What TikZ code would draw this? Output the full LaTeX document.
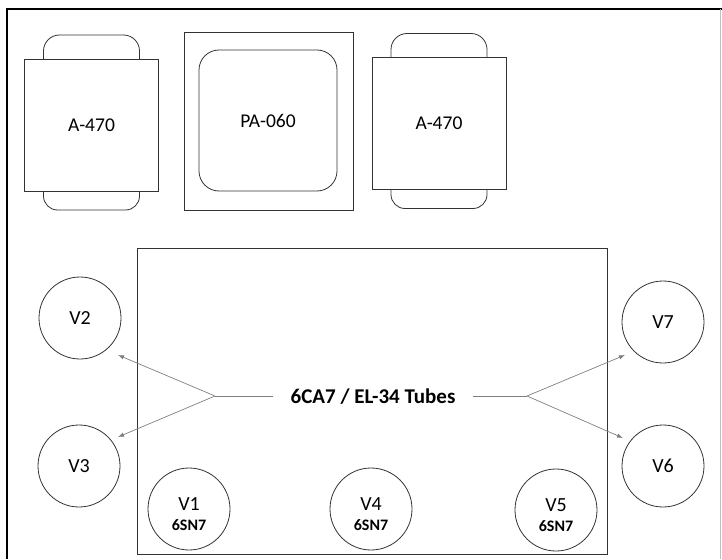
\documentclass[tikz,border=0pt]{standalone}
\usepackage{fontspec}
\setmainfont{Carlito}
\usetikzlibrary{arrows.meta}
\usetikzlibrary{positioning}

% transformer: name, centre x, centre y, label
\newcommand*{\xfmr}[4]{%
  \draw [part, rounded corners=16pt] ({#2-48},{#3-66}) -- ({#2-48},{#3-90})
        -- ({#2+48},{#3-90}) -- ({#2+48},{#3-66});
  \draw [part, rounded corners=14pt] ({#2-48},{#3+66}) -- ({#2-48},{#3+85})
        -- ({#2+48},{#3+85}) -- ({#2+48},{#3+66});
  \node [part, fill=white, minimum width=134pt, minimum height=132pt,
         font=\fontsize{19.5}{22}\selectfont] (#1) at (#2,#3) {#4};
}

\begin{document}
\begin{tikzpicture}[x=1pt, y=-1pt,
    part/.style = {draw=black!80, line width=0.8pt},
    tube/.style = {part, circle, minimum size=82pt, inner sep=0pt,
                   align=center, font=\fontsize{20}{22}\selectfont},
    driver/.style = {tube, text height=44pt},
    lead/.style = {draw=black!50, line width=0.7pt},
    tip/.style  = {lead, -{Latex[length=6pt,width=4.5pt]}}]
		\useasboundingbox (0,0) rectangle (722,559);
		% frame
		\draw [line width=1.4pt] (722,9) -- (7,9) -- (7,559);
		\draw [black!25, line width=0.8pt] (720,9) -- (720,559);
		% power and output transformers
		\xfmr{otl}{91.5}{125}{A-470}
		\xfmr{otr}{439}{123.5}{A-470}
		\node [part, minimum width=169pt, minimum height=178pt] (pt) at (268.5,121) {};
		\node [part, rounded corners=20pt, minimum width=138pt, minimum height=141pt,
		       font=\fontsize{19.5}{22}\selectfont] (ptcore) at (268,120.5) {PA-060};
		% chassis
		\node [part, minimum width=470pt, minimum height=306pt] (chassis) at (372,401) {};
		% tubes
		\node [tube] (v2) at (80,318) {V2};
		\node [tube] (v3) at (79,466) {V3};
		\node [tube] (v7) at (663,322) {V7};
		\node [tube] (v6) at (663,466) {V6};
		\node [driver] (v1) at (189,509) {V1\\[-2pt]{\bfseries\fontsize{16}{18}\selectfont 6SN7}};
		\node [driver] (v4) at (371,509) {V4\\[-2pt]{\bfseries\fontsize{16}{18}\selectfont 6SN7}};
		\node [driver] (v5) at (556,510) {V5\\[-2pt]{\bfseries\fontsize{16}{18}\selectfont 6SN7}};
		% callout
		\node [font=\bfseries\fontsize{21}{25}\selectfont, inner xsep=17pt,
		       anchor=base] (tubes) at (373,403) {6CA7 / EL-34 Tubes};
		\coordinate (jl) at (215,396);
		\coordinate (jr) at (527,396);
		\coordinate (t2) at (118,355);
		\coordinate (t3) at (118,437);
		\coordinate (t7) at (625,355);
		\coordinate (t6) at (623,438);
		\draw [lead] (tubes.west |- jl) -- (jl);
		\draw [lead] (tubes.east |- jr) -- (jr);
		\draw [tip] (jl) -- (t2);
		\draw [tip] (jl) -- (t3);
		\draw [tip] (jr) -- (t7);
		\draw [tip] (jr) -- (t6);
\end{tikzpicture}
\end{document}
